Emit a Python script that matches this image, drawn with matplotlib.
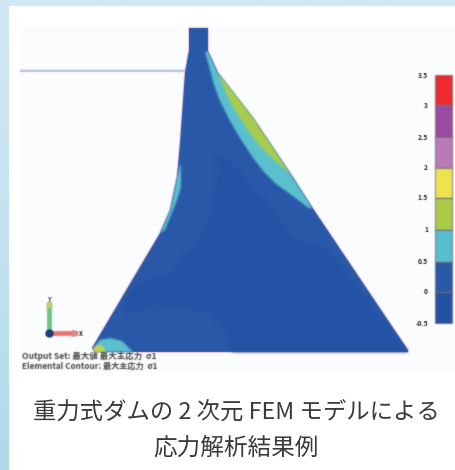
# -*- coding: UTF-8 -*-
import numpy as np
import matplotlib
matplotlib.use('Agg')
import matplotlib.pyplot as plt
from matplotlib.patches import Polygon

plt.rcParams['font.family'] = ['Noto Sans CJK JP', 'DejaVu Sans']

# outlines (pixels)
dam_x = [189, 189, 208, 208, 218, 253, 290, 312, 408, 408, 95, 92, 160, 170, 177, 180, 185, 189]
dam_y = [50, 28, 28, 51, 73, 118, 173, 207, 350, 352, 352, 348, 233, 210, 177, 143, 72, 50]
cyan_r_x = [205, 208, 218, 253, 290, 312, 310, 290, 276, 263, 251, 240, 230, 220, 214, 209]
cyan_r_y = [52, 51, 73, 118, 173, 207, 209, 194, 184, 171, 155, 138, 121, 101, 85, 66]
green_x = [218, 253, 290, 271, 260, 250, 240, 231, 224]
green_y = [72, 117, 174, 157, 146, 133, 118, 103, 88]
cyan_l_x = [180, 177, 170, 160, 165, 177, 181, 181]
cyan_l_y = [165, 177, 210, 233, 230, 200, 187, 165]
cyan_b_x = [94, 100, 110, 122, 133, 95]
cyan_b_y = [347, 340, 338, 341, 352, 352]
yellow_x = [92, 98, 103, 106, 95]
yellow_y = [349, 345, 346, 352, 352]
dark_x = [218, 218, 210, 197, 187, 170, 140, 125, 127, 170, 210, 227, 232, 408, 330, 293, 267, 240]
dark_y = [153, 177, 217, 244, 252, 273, 282, 296, 313, 306, 313, 333, 352, 352, 252, 237, 204, 172]

levels = [3.5, 3, 2.5, 2, 1.5, 1, 0.5, 0, -0.5]
level_labels = ['3.5', '3', '2.5', '2', '1.5', '1', '0.5', '0', '-0.5']
level_y = [75, 105, 137, 168, 198, 230, 262, 292, 323]
level_colors = ['#ee2a30', '#9b4b9f', '#bb7ab6', '#ece34e', '#a9cb47', '#55bfcf', '#2b58a8', '#2450a4']

line1 = 'Output Set: 最大値 最大主応力  σ1'
line2 = 'Elemental Contour: 最大主応力  σ1'
caption = ['重力式ダムの 2 次元 FEM モデルによる', '応力解析結果例']


def blur(sigma):
    pad = int(sigma * 3) + 1
    k = np.exp(-0.5 * (np.arange(-pad, pad + 1) / sigma) ** 2)
    k = k / k.sum()

    def f(im, dpi):
        im = np.pad(im, ((pad, pad), (pad, pad), (0, 0)))
        a = im[:, :, 3:]
        out = np.concatenate([im[:, :, :3] * a, a], axis=2)
        for ax_ in (0, 1):
            out = np.apply_along_axis(lambda m: np.convolve(m, k, mode='same'), ax_, out)
        a2 = np.clip(out[:, :, 3:], 1e-4, 1)
        out[:, :, :3] = np.clip(out[:, :, :3] / a2, 0, 1)
        return out, -pad, -pad
    return f


fig = plt.figure(figsize=(4.55, 4.70), dpi=100)
ax = fig.add_axes([0, 0, 1, 1])
ax.set_xlim(0, 455)
ax.set_ylim(470, 0)
ax.axis('off')

# page background
grad = np.linspace(0, 1, 256).reshape(-1, 1)
cmap = matplotlib.colors.LinearSegmentedColormap.from_list('bg', ['#d2e8f4', '#c4e2f0', '#aedaeb'])
ax.imshow(grad, extent=(0, 455, 470, 0), cmap=cmap, aspect='auto', zorder=0)
ax.set_xlim(0, 455)
ax.set_ylim(470, 0)
ax.fill_between([9, 455], 6, 470, color='white', lw=0, zorder=1)
ax.fill_between([20, 455], 26, 372, color='#fbfcfe', lw=0, zorder=1)

# water level
ax.plot([20, 185], [69.5, 69.5], color='#fbdde6', lw=2, zorder=2, solid_capstyle='butt', agg_filter=blur(0.6))
ax.plot([20, 185], [71, 71], color='#a8c8e8', lw=1.3, zorder=2, solid_capstyle='butt', agg_filter=blur(0.5))

# dam
halo = Polygon(np.column_stack([dam_x, dam_y]), closed=True, fc='none', ec='#f8c6dc', lw=1.2, zorder=2)
halo.set_agg_filter(blur(0.6))
ax.add_patch(halo)
base = Polygon(np.column_stack([dam_x, dam_y]), closed=True, fc='#2958a9', ec='none', zorder=3)
base.set_agg_filter(blur(0.5))
ax.add_patch(base)
regions = [(dark_x, dark_y, '#2553a6'), (cyan_r_x, cyan_r_y, '#5cc1cf'), (green_x, green_y, '#a9cd4a'),
           (cyan_l_x, cyan_l_y, '#5cc1cf'), (cyan_b_x, cyan_b_y, '#5cc1cf'), (yellow_x, yellow_y, '#c3d54a')]
for rx, ry, c in regions:
    p = Polygon(np.column_stack([rx, ry]), closed=True, fc=c, ec='none', zorder=4)
    ax.add_patch(p)
    p.set_clip_path(base)
    p.set_agg_filter(blur(1.5 if c == '#2553a6' else 1.0))

# contour legend
for i in range(len(level_colors)):
    b = ax.bar(443.5, level_y[i + 1] - level_y[i], width=17, bottom=level_y[i],
               color=level_colors[i], edgecolor='#5c5a6e', lw=0.5, zorder=3)
    b[0].set_agg_filter(blur(0.7))
for lab, y in zip(level_labels, level_y):
    ax.text(428, y, lab, ha='right', va='center', fontsize=4.8, color='#222222',
            fontweight='bold', zorder=5, agg_filter=blur(0.5))

# axis triad
ax.plot([49, 49], [333, 304], color='#6cc283', lw=3.5, zorder=3, agg_filter=blur(0.7))
ax.plot([49], [304], '^', color='#c5d36a', ms=4, zorder=3, agg_filter=blur(0.6))
ax.plot([49, 75], [333, 333], color='#e8736f', lw=3.5, zorder=3, agg_filter=blur(0.7))
ax.plot([75], [333], '>', color='#d98a8a', ms=4, zorder=3, agg_filter=blur(0.6))
ax.plot([49], [333], 'o', color='#1d3f78', ms=5, zorder=4, agg_filter=blur(0.5))
ax.text(49, 299, 'Y', ha='center', va='center', fontsize=4.5, fontweight='bold', color='#444444', agg_filter=blur(0.5))
ax.text(81, 333, 'X', ha='center', va='center', fontsize=4.5, fontweight='bold', color='#222222', agg_filter=blur(0.5))

# model notes
ax.text(22, 356, line1, ha='left', va='center', fontsize=6.1, fontweight='bold', color='#444444', zorder=5, agg_filter=blur(0.6))
ax.text(22, 366, line2, ha='left', va='center', fontsize=5.9, fontweight='bold', color='#444444', zorder=5, agg_filter=blur(0.6))

# caption
ax.text(236, 412, caption[0], ha='center', va='center', fontsize=16.8, color='#3a3a3a', zorder=5)
ax.text(236, 448, caption[1], ha='center', va='center', fontsize=17, color='#3a3a3a', zorder=5)

fig.savefig('out.png', dpi=100)
